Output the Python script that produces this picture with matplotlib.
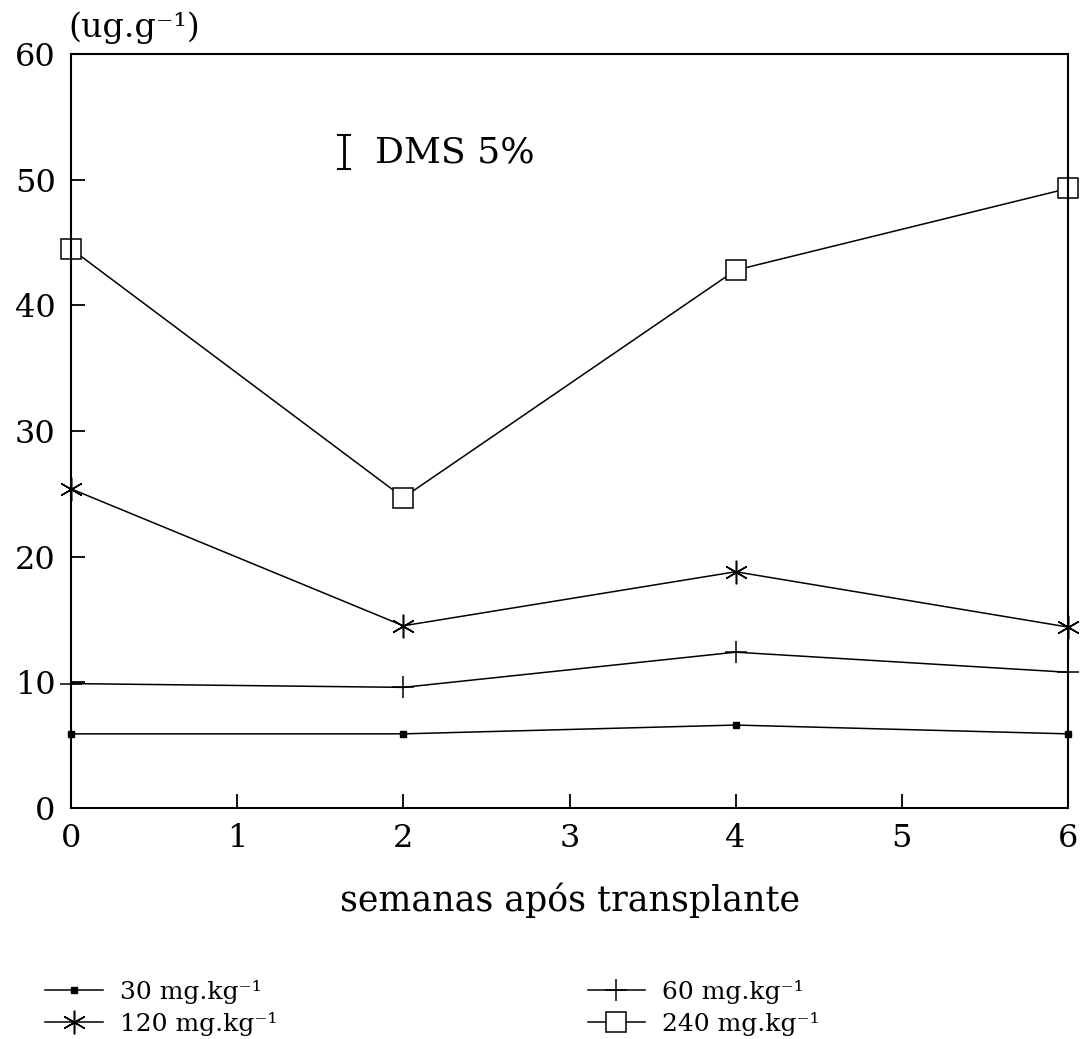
import matplotlib.pyplot as plt

plt.rcParams['font.family'] = ['DejaVu Serif']

# Data
semanas = [0, 2, 4, 6]
dose_30 = [5.9, 5.9, 6.6, 5.9]
dose_60 = [9.9, 9.6, 12.4, 10.8]
dose_120 = [25.4, 14.5, 18.8, 14.4]
dose_240 = [44.5, 24.7, 42.8, 49.3]
dms_5 = 2.7
labels = ['30 mg.kg⁻¹', '60 mg.kg⁻¹', '120 mg.kg⁻¹', '240 mg.kg⁻¹']

fig = plt.figure(figsize=(10.8, 10.39), dpi=100)
ax = fig.add_axes([71 / 1080, 1 - 808 / 1039, (1068 - 71) / 1080, (808 - 54) / 1039])

kw = dict(color='black', lw=1.1, clip_on=False)
l30, = ax.plot(semanas, dose_30, marker='s', ms=4.5, **kw)
l60, = ax.plot(semanas, dose_60, marker='+', ms=16, mew=1.1, **kw)
l120, = ax.plot(semanas, dose_120, marker=(6, 2, 0), ms=17, mew=1.1, **kw)
l240, = ax.plot(semanas, dose_240, marker='s', ms=14, mfc='white', mew=1.1, **kw)

# DMS 5% bar
ax.errorbar([1.64], [52.2], yerr=[dms_5 / 2], fmt='none', ecolor='black',
            elinewidth=2, capsize=5, capthick=1.5)
ax.text(1.83, 52.2, 'DMS 5%', fontsize=26, va='center', ha='left')

ax.set_xlim(0, 6)
ax.set_ylim(0, 60)
ax.set_xticks(range(0, 7))
ax.set_yticks(range(0, 61, 10))
ax.tick_params(direction='in', length=10, width=1.3, labelsize=23,
               top=False, right=False)
ax.tick_params(axis='x', pad=11)
ax.tick_params(axis='y', pad=11)
for s in ax.spines.values():
    s.set_linewidth(1.5)

ax.set_xlabel('semanas após transplante', fontsize=25, labelpad=20)
fig.text(68 / 1080, 1 - 28 / 1039, '(ug.g⁻¹)', fontsize=24, va='center', ha='left')

fig.legend([l30, l120, l60, l240], [labels[0], labels[2], labels[1], labels[3]],
           ncol=2, loc='upper left', bbox_to_anchor=(45 / 1080, 1 - 980 / 1039),
           frameon=False, fontsize=18, handlelength=2.3, handletextpad=0.7,
           columnspacing=12.4, labelspacing=0.3, borderpad=0, borderaxespad=0)

fig.savefig('out.png', dpi=100)
